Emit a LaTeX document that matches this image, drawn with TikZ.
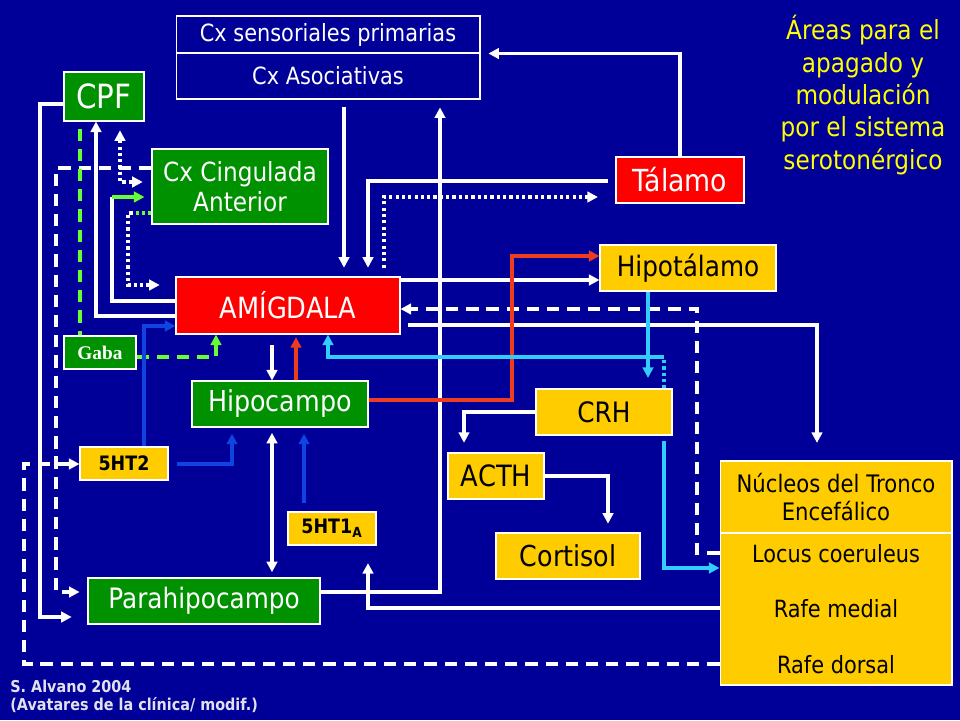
\documentclass[tikz,border=0pt]{standalone}
\usepackage{fontspec}
\setmainfont{DejaVu Sans}[FakeStretch=0.88]
\newfontfamily\serifa{Liberation Serif}
\usetikzlibrary{arrows.meta}
\definecolor{fondo}{RGB}{0,0,153}
\definecolor{verde}{RGB}{0,145,0}
\definecolor{rojo}{RGB}{255,0,0}
\definecolor{amarillo}{RGB}{255,204,0}
\definecolor{amarillotexto}{RGB}{255,255,0}
\definecolor{celeste}{RGB}{51,204,255}
\definecolor{azul}{RGB}{16,68,224}
\definecolor{verdeclaro}{RGB}{102,255,51}
\definecolor{rojolinea}{RGB}{240,60,30}
\definecolor{gris}{RGB}{225,225,235}
\newcommand\tam[2]{\fontsize{#1}{#2}\selectfont}
\tikzset{
    caja/.style={draw=white, line width=0.6pt, inner sep=0pt, align=center},
    medida/.style 2 args={minimum width=#1cm, minimum height=#2cm},
    verde/.style={caja, fill=verde, text=white},
    rojo/.style={caja, fill=rojo, text=white},
    amarilla/.style={caja, fill=amarillo, text=black},
    linea/.style={draw=white, line width=1.9pt},
    guion/.style={linea, dash pattern=on 7pt off 4.5pt},
    punteado/.style={linea, dash pattern=on 1.8pt off 1.8pt}
}

\begin{document}
\begin{tikzpicture}[x=0.02cm,y=-0.02cm, >={Triangle[length=6pt,width=6pt]}]
    \fill[fondo] (0,0) rectangle (960,720);

    % cajas
    \node[caja, medida={6.08}{0.74}, text=white, font=\tam{13.5}{16}] (csens) at (328,34.5) {Cx sensoriales primarias};
    \node[caja, medida={6.08}{0.92}, text=white, font=\tam{13.5}{16}] (casoc) at (328,76) {Cx Asociativas};
    \node[verde, medida={1.6}{0.98}, font=\tam{19}{22}] (cpf) at (104,96.5) {CPF};
    \node[verde, medida={3.52}{1.5}, font=\tam{15}{17}] (cing) at (240,186.5) {Cx Cingulada\\Anterior};
    \node[rojo, medida={2.56}{0.92}, font=\tam{17.3}{20}] (talamo) at (680,180) {Tálamo};
    \node[amarilla, medida={3.52}{0.92}, font=\tam{16}{19}] (hipot) at (688,268) {Hipotálamo};
    \node[rojo, medida={4.48}{1.14}, font=\tam{16.6}{19}] (amig) at (288,305.5) {AMÍGDALA};
    \node[verde, medida={1.44}{0.66}, font=\serifa\bfseries\tam{11}{13}] (gaba) at (100,352.5) {Gaba};
    \node[verde, medida={3.52}{0.92}, font=\tam{16.4}{19}] (hipoc) at (280,404) {Hipocampo};
    \node[amarilla, medida={2.72}{0.92}, font=\tam{16}{19}] (crh) at (604,412) {CRH};
    \node[amarilla, medida={1.76}{0.66}, font=\bfseries\tam{11.3}{14}] (ht2) at (124,463.5) {5HT2};
    \node[amarilla, medida={1.92}{0.92}, font=\tam{16.7}{19}] (acth) at (496,476) {ACTH};
    \node[amarilla, medida={4.64}{1.44}, font=\tam{13.7}{16.4}] (nucl1) at (836,497) {Núcleos del Tronco\\Encefálico};
    \node[amarilla, medida={4.64}{3.04}, font=\tam{13.5}{31.5}] (nucl2) at (836,609) {Locus coeruleus\\Rafe medial\\Rafe dorsal};
    \node[amarilla, medida={1.76}{0.66}, font=\bfseries\tam{11.3}{14}] (ht1a) at (332,528.5) {5HT1\textsubscript{A}};
    \node[amarilla, medida={2.88}{0.92}, font=\tam{16.4}{19}] (cortisol) at (568,556) {Cortisol};
    \node[verde, medida={4.64}{0.92}, font=\tam{16}{19}] (parahip) at (204,601) {Parahipocampo};
    \node[text=amarillotexto, align=center, font=\tam{15}{18.4}] (areas) at (863,95) {Áreas para el\\apagado y\\modulación\\por el sistema\\serotonérgico};
    \node[text=gris, align=left, anchor=north west, inner sep=0pt, font=\bfseries\tam{9.3}{10.2}] (fuente) at (10,680) {S. Alvano 2004\\(Avatares de la clínica/ modif.)};

    \coordinate (codo) at (112,197);
    \coordinate (codocrh) at (664,357);

    % conexiones blancas
    \draw[linea, ->, shorten >=4.5pt] (talamo.north) |- (csens.south east);
    \draw[linea, ->, shorten >=9pt] (cpf.west |- 0,104) -| (40,617) -- (parahip.west |- 0,617);
    \draw[guion, ->, shorten >=4.5pt] (cing.west |- 0,168) -| (56,592) -- (parahip.west |- 0,592);
    \draw[linea, ->] (amig.west |- 0,316) -| (cpf.south -| 96,0);
    \draw[linea] (amig.west |- 0,301) -| (codo);
    \draw[linea, draw=verdeclaro, ->, shorten >=4pt] (codo) -- (cing.west |- codo);
    \draw[punteado, <->, shorten <=5pt, shorten >=5pt] (cpf.south -| 120,0) |- (cing.west |- 0,182);
    \draw[punteado, ->, shorten >=9pt] (cing.west |- 0,213) -| (128,285) -- (amig.west |- 0,285);
    \draw[punteado, draw=verdeclaro] (cing.west |- 0,213) -- (134,213);
    \draw[linea, ->, shorten <=4.5pt, shorten >=5pt] (casoc.south -| 344,0) -- (amig.north -| 344,0);
    \draw[linea, ->, shorten <=4.5pt, shorten >=5pt] (talamo.west |- 0,181) -| (amig.north -| 368,0);
    \draw[punteado, ->, shorten <=5pt, shorten >=10pt] (amig.north -| 384,0) |- (talamo.west |- 0,197);
    \draw[linea, ->, shorten >=4.5pt] (parahip.east |- 0,592) -| (casoc.south -| 440,0);
    \draw[linea, ->] (amig.east |- 0,280) -- (hipot.west |- 0,280);
    \draw[guion, ->] (nucl2.west |- 0,553) -| (697,309) -- (amig.east |- 0,309);
    \draw[linea, ->, shorten <=4.5pt, shorten >=10pt] (amig.east |- 0,325) -| (nucl1.north -| 817,0);
    \draw[linea, ->, shorten >=5.5pt] (crh.west) -| (acth.north -| 464,0);
    \draw[linea, ->, shorten >=5pt] (acth.east) -| (cortisol.north -| 608,0);
    \draw[linea, ->, shorten >=10pt] (nucl2.west |- 0,608) -| (ht1a.south -| 368,0);
    \draw[guion, ->] (nucl2.west |- 0,664) -| (24,464) -- (ht2.west |- 0,464);
    \draw[linea, <->, shorten <=3pt, shorten >=3pt] (hipoc.south -| 272,0) -- (parahip.north -| 272,0);
    \draw[linea, ->, shorten <=6pt] (amig.south -| 272,0) -- (hipoc.north -| 272,0);

    % gaba
    \draw[guion, draw=verdeclaro, shorten <=4pt] (cpf.south -| 80,0) -- (gaba.north -| 80,0);
    \draw[guion, draw=verdeclaro, ->] (gaba.east |- 0,357) -| (amig.south -| 216,0);

    % rojas
    \draw[linea, draw=rojolinea, ->] (hipoc.east |- 0,400) -| (512,256) -- (hipot.west |- 0,256);
    \draw[linea, draw=rojolinea, ->, shorten >=1.5pt] (hipoc.north -| 296,0) -- (amig.south -| 296,0);

    % celestes
    \draw[linea, draw=celeste, ->, shorten >=6pt] (hipot.south -| 648,0) -- (crh.north -| 648,0);
    \draw[punteado, draw=celeste] (crh.north -| codocrh) -- (codocrh);
    \draw[linea, draw=celeste, ->] (codocrh) -| (amig.south -| 328,0);
    \draw[linea, draw=celeste, ->, shorten <=3pt] (crh.south -| 664,0) |- (nucl2.west |- 0,568);

    % azules 5HT
    \draw[linea, draw=azul, ->] (ht2.north -| 144,0) |- (amig.west |- 0,326);
    \draw[linea, draw=azul, ->, shorten <=5pt, shorten >=3.5pt] (ht2.east |- 0,464) -| (hipoc.south -| 232,0);
    \draw[linea, draw=azul, ->, shorten <=5pt, shorten >=3.5pt] (ht1a.north -| 304,0) -- (hipoc.south -| 304,0);
\end{tikzpicture}
\end{document}
